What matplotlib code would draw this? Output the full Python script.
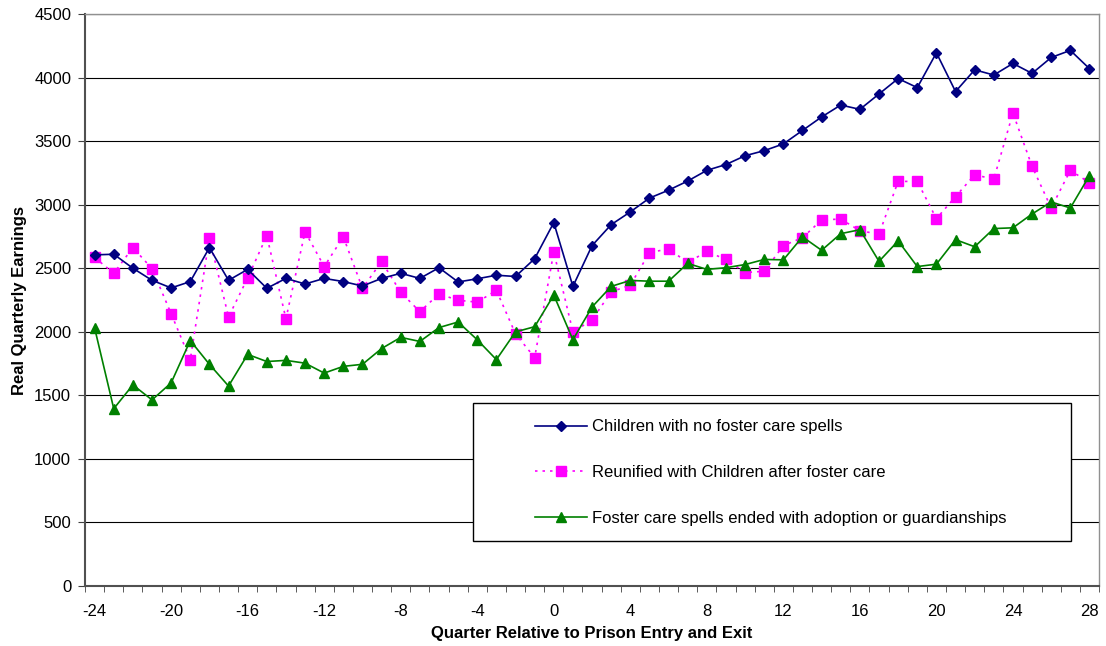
import numpy as np
import matplotlib.pyplot as plt
from matplotlib.patches import Rectangle

plt.rcParams['font.family'] = ['Liberation Sans', 'DejaVu Sans']
plt.rcParams['axes.unicode_minus'] = False

# quarters relative to prison entry and exit
quarters = list(range(-24, 29))

no_foster = [2605, 2610, 2500, 2405, 2345, 2395, 2662, 2405, 2491, 2342,
             2420, 2376, 2420, 2395, 2360, 2420, 2460, 2420, 2504, 2392,
             2417, 2445, 2435, 2575, 2859, 2357, 2678, 2843, 2943, 3052,
             3114, 3186, 3270, 3316, 3385, 3425, 3478, 3584, 3690, 3784,
             3750, 3871, 3992, 3921, 4195, 3890, 4061, 4020, 4111, 4033,
             4158, 4214, 4070]

reunified = [2585, 2460, 2662, 2497, 2142, 1781, 2737, 2117, 2423, 2756,
             2102, 2787, 2513, 2747, 2342, 2553, 2311, 2158, 2298, 2248,
             2233, 2326, 1984, 1797, 2628, 1999, 2093, 2314, 2367, 2622,
             2653, 2544, 2632, 2569, 2466, 2476, 2678, 2740, 2880, 2887,
             2795, 2768, 3183, 3183, 2890, 3064, 3235, 3201, 3721, 3301,
             2974, 3270, 3173]

adoption = [2030, 1395, 1582, 1464, 1598, 1931, 1744, 1573, 1822, 1766,
            1775, 1753, 1675, 1728, 1744, 1868, 1956, 1924, 2033, 2077,
            1937, 1781, 1999, 2040, 2289, 1937, 2195, 2357, 2404, 2398,
            2398, 2538, 2491, 2504, 2529, 2569, 2566, 2747, 2641, 2772,
            2803, 2554, 2715, 2513, 2532, 2725, 2669, 2812, 2818, 2927,
            3021, 2974, 3229]

labels = ['Children with no foster care spells',
          'Reunified with Children after foster care',
          'Foster care spells ended with adoption or guardianships']

fig = plt.figure(figsize=(11.06, 6.46), dpi=100)
ax = fig.add_axes([0.0769, 0.0929, 0.9168, 0.8854])

ax.plot(quarters, no_foster, color='#000080', lw=1.2, marker='D', ms=5,
        label=labels[0], zorder=4)
ax.plot(quarters, reunified, color='#FF00FF', lw=1.2, ls=(0, (1.5, 3)), marker='s', ms=7,
        label=labels[1], zorder=3)
ax.plot(quarters, adoption, color='#008000', lw=1.2, marker='^', ms=7,
        label=labels[2], zorder=3)

ax.set_xlim(-24.5, 28.5)
ax.set_ylim(0, 4500)
ax.set_yticks(np.arange(0, 4501, 500))
ax.set_xticks(np.arange(-24, 29, 4))
ax.set_xticks(np.arange(-24.5, 28.6, 1), minor=True)
ax.tick_params(axis='x', which='major', length=0, labelsize=12, pad=13)
ax.tick_params(axis='x', which='minor', length=4, direction='out', color='#404040')
ax.tick_params(axis='y', length=5, direction='out', labelsize=12, pad=5, color='#404040')
ax.grid(axis='y', color='black', lw=0.8)
ax.set_axisbelow(True)

for s in ['top', 'right']:
    ax.spines[s].set_color('#909090')
    ax.spines[s].set_linewidth(1.0)
for s in ['left', 'bottom']:
    ax.spines[s].set_color('#505050')
    ax.spines[s].set_linewidth(1.5)

ax.set_xlabel('Quarter Relative to Prison Entry and Exit', fontsize=12,
              fontweight='bold', labelpad=5)
ax.set_ylabel('Real Quarterly Earnings', fontsize=12, fontweight='bold', labelpad=5)

# legend box
ax.add_patch(Rectangle((0.3826, 0.0787), 0.5898, 0.2413, transform=ax.transAxes,
                       facecolor='white', edgecolor='black', lw=1.0, zorder=5))
leg = ax.legend(loc='center left', bbox_to_anchor=(0.444, 0.198), frameon=False,
                fontsize=12, handlelength=3.1, handletextpad=0.3,
                labelspacing=1.85, borderpad=0, borderaxespad=0)
leg.set_zorder(6)

plt.savefig('out.png', dpi=100)
